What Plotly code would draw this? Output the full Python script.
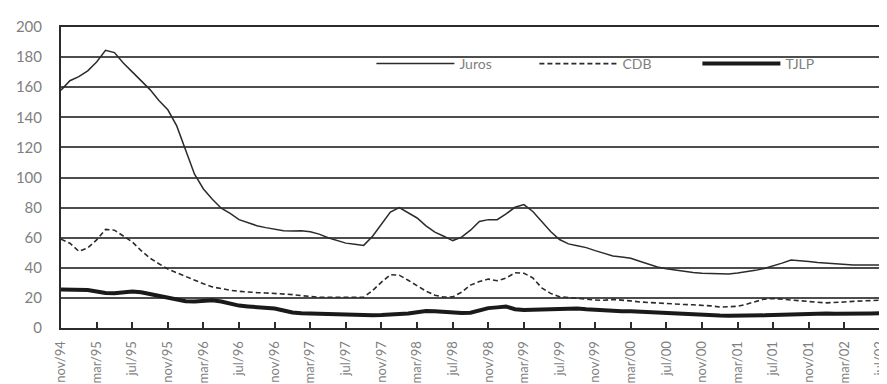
import plotly.graph_objects as go

months = [
    "nov/94", "dez/94",
    "jan/95", "fev/95", "mar/95", "abr/95", "mai/95", "jun/95", "jul/95", "ago/95", "set/95", "out/95", "nov/95", "dez/95",
    "jan/96", "fev/96", "mar/96", "abr/96", "mai/96", "jun/96", "jul/96", "ago/96", "set/96", "out/96", "nov/96", "dez/96",
    "jan/97", "fev/97", "mar/97", "abr/97", "mai/97", "jun/97", "jul/97", "ago/97", "set/97", "out/97", "nov/97", "dez/97",
    "jan/98", "fev/98", "mar/98", "abr/98", "mai/98", "jun/98", "jul/98", "ago/98", "set/98", "out/98", "nov/98", "dez/98",
    "jan/99", "fev/99", "mar/99", "abr/99", "mai/99", "jun/99", "jul/99", "ago/99", "set/99", "out/99", "nov/99", "dez/99",
    "jan/00", "fev/00", "mar/00", "abr/00", "mai/00", "jun/00", "jul/00", "ago/00", "set/00", "out/00", "nov/00", "dez/00",
    "jan/01", "fev/01", "mar/01", "abr/01", "mai/01", "jun/01", "jul/01", "ago/01", "set/01", "out/01", "nov/01", "dez/01",
    "jan/02", "fev/02", "mar/02", "abr/02", "mai/02", "jun/02", "jul/02",
]

tick_labels = [
    "nov/94", "mar/95", "jul/95", "nov/95", "mar/96", "jul/96", "nov/96", "mar/97",
    "jul/97", "nov/97", "mar/98", "jul/98", "nov/98", "mar/99", "jul/99", "nov/99",
    "mar/00", "jul/00", "nov/00", "mar/01", "jul/01", "nov/01", "mar/02", "jul/02",
]

juros = [
    158, 164.3, 167, 170.9, 176.7, 184.5, 183, 176.1, 170.2, 164.6,
    158.4, 151.1, 145, 134.3, 118.9, 102.2, 92.4, 85.6, 79.6, 76.1,
    72, 70, 68, 66.7, 65.5, 64.7, 64.4, 64.6, 64, 62.4,
    60, 58, 56.4, 55.6, 54.9, 61, 69, 77, 80, 76.7,
    73.1, 67.9, 63.7, 61, 58.1, 60.4, 65, 70.8, 72, 72,
    75.8, 80.2, 82, 77.4, 70.8, 64.1, 58.8, 55.9, 54.7, 53.4,
    51.4, 49.5, 47.9, 47.2, 46.4, 44.4, 42.4, 40.5, 39.3, 38.4,
    37.6, 36.9, 36.4, 36.1, 36, 35.9, 36.5, 37.2, 38.3, 39.5,
    41.1, 43.1, 45.1, 44.9, 44.2, 43.5, 43, 42.5, 42.1, 41.8,
    41.8, 41.8, 41.8,
]

cdb = [
    59, 56.3, 51, 53.2, 58.5, 65.5, 65, 60.8, 57.2, 51.4,
    46.4, 42.7, 39.2, 36.7, 34.2, 31.9, 29.4, 27.3, 26.1, 25.1,
    24.4, 23.7, 23.5, 23.3, 23, 22.6, 22.2, 21.5, 20.9, 20.4,
    20.4, 20.4, 20.4, 20.4, 20.4, 24.9, 30.5, 35.4, 35.1, 31.7,
    28.2, 24.5, 21.8, 20.5, 20.7, 23.8, 28.5, 30.9, 32.5, 31.4,
    33.2, 36.7, 36.4, 33.3, 26.7, 23, 20.8, 20.1, 19.6, 19.2,
    18.6, 18.4, 19, 18.7, 18, 17.3, 16.9, 16.6, 16.2, 15.8,
    15.6, 15.4, 15.2, 14.7, 13.9, 14, 14.4, 15.8, 17.6, 19.2,
    19.6, 19, 18.4, 17.9, 17.4, 17.1, 16.7, 16.8, 17.3, 17.7,
    18, 18.2, 18.5,
]

tjlp = [
    25.5, 25.5, 25.5, 25.2, 24.2, 23.2, 23.1, 23.7, 24.2, 23.7,
    22.5, 21.3, 20.2, 19.2, 17.8, 17.6, 18.1, 18.4, 17.6, 16.3,
    14.9, 14.3, 14, 13.8, 12.9, 11.6, 10.3, 9.8, 9.6, 9.3,
    9, 8.8, 8.7, 8.6, 8.5, 8.4, 8.6, 8.9, 9.2, 9.7,
    10.5, 11.3, 11.1, 10.5, 10, 9.9, 10.2, 11.7, 13.2, 13.7,
    14.2, 12.5, 12, 12.2, 12.4, 12.7, 13, 13.3, 12.9, 12.4,
    12, 11.5, 11.1, 11.1, 11.1, 10.8, 10.4, 10, 9.6, 9.2,
    9, 8.7, 8.5, 8.4, 8.3, 8.2, 8.1, 8, 8.2, 8.4,
    8.7, 8.9, 9.2, 9.5, 9.7, 9.7, 9.6, 9.5, 9.4, 9.3,
    9.5, 9.7, 9.8,
]

y_ticks = [0, 20, 40, 60, 80, 100, 120, 140, 160, 180, 200]

text_color = "#7f7f7f"
line_color = "#2b2b2b"
grid_color = "#4d4d4d"
font_family = "Lato, 'Open Sans', sans-serif"

fig = go.Figure()
fig.add_trace(go.Scatter(x=months, y=juros, mode="lines", name="Juros",
                         line=dict(color=line_color, width=1.5)))
fig.add_trace(go.Scatter(x=months, y=cdb, mode="lines", name="CDB",
                         line=dict(color=line_color, width=1.6, dash="5px,3px")))
fig.add_trace(go.Scatter(x=months, y=tjlp, mode="lines", name="TJLP",
                         line=dict(color="#1a1a1a", width=4)))

fig.update_layout(
    width=887, height=384,
    margin=dict(l=51, r=8, t=19, b=64),
    paper_bgcolor="white", plot_bgcolor="white",
    font=dict(family=font_family, color=text_color, size=14),
    showlegend=True,
    legend=dict(
        orientation="h", x=0.379, y=0.877, xanchor="left", yanchor="middle",
        entrywidth=70, entrywidthmode="pixels", itemwidth=78,
        font=dict(size=14, color=text_color), bgcolor="rgba(0,0,0,0)",
        traceorder="normal",
    ),
)

fig.update_xaxes(
    type="category", range=[0, len(months) - 1],
    tickmode="array", tickvals=tick_labels, ticktext=tick_labels,
    tickangle=-90, ticks="inside", ticklen=6, tickwidth=2, tickcolor=line_color,
    tickfont=dict(size=13, color=text_color), ticklabelstandoff=6,
    showgrid=False, showline=True, linecolor=line_color, linewidth=2, mirror=True,
    zeroline=False,
)
fig.update_yaxes(
    range=[0, 200], tickmode="array", tickvals=y_ticks,
    ticks="", tickfont=dict(size=15, color=text_color), ticklabelstandoff=14,
    showgrid=True, gridcolor=grid_color, gridwidth=1.6,
    showline=True, linecolor=line_color, linewidth=2, mirror=True,
    zeroline=False,
)

fig.write_html("out.html")
